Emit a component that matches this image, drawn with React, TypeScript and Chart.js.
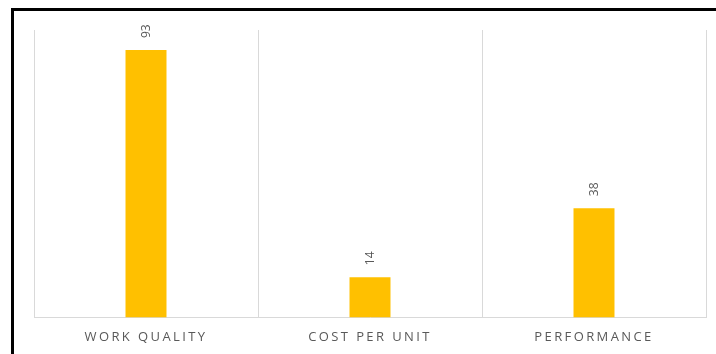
import React, { useEffect, useRef } from "react";
import { Chart, registerables } from "chart.js";

Chart.register(...registerables);

const categories: string[] = ["WORK QUALITY", "COST PER UNIT", "PERFORMANCE"];
const values: number[] = [93, 14, 38];
const yMin = 0;
const yMax = 100;

const FONT = "'Open Sans', 'Noto Sans', sans-serif";

const letterSpacingPlugin = {
  id: "letterSpacing",
  beforeDraw(chart: any) {
    (chart.ctx as any).letterSpacing = "2.4px";
  },
};

const valueLabelPlugin = {
  id: "valueLabels",
  afterDatasetsDraw(chart: any) {
    const ctx = chart.ctx as CanvasRenderingContext2D;
    const meta = chart.getDatasetMeta(0);
    const data = chart.data.datasets[0].data as number[];
    ctx.save();
    (ctx as any).letterSpacing = "0px";
    ctx.fillStyle = "#595959";
    ctx.font = `12px ${FONT}`;
    ctx.textAlign = "left";
    ctx.textBaseline = "middle";
    meta.data.forEach((bar: any, i: number) => {
      ctx.save();
      ctx.translate(bar.x + 1, bar.y - 12);
      ctx.rotate(-Math.PI / 2);
      ctx.fillText(String(data[i]), 0, 0);
      ctx.restore();
    });
    ctx.restore();
  },
};

export default function App() {
  const ref = useRef<HTMLCanvasElement | null>(null);

  useEffect(() => {
    if (!ref.current) return;
    const chart = new Chart(ref.current, {
      type: "bar",
      data: {
        labels: categories,
        datasets: [
          {
            data: values,
            backgroundColor: "#FFC000",
            borderWidth: 0,
            barPercentage: 0.183,
            categoryPercentage: 1,
          },
        ],
      },
      options: {
        responsive: false,
        animation: false,
        devicePixelRatio: 1,
        layout: { padding: { left: 34, right: 10, top: 30, bottom: 9 } },
        plugins: {
          legend: { display: false },
          tooltip: { enabled: false },
        },
        scales: {
          x: {
            grid: {
              display: true,
              offset: true,
              color: "#d9d9d9",
              lineWidth: 1,
              drawTicks: false,
            },
            border: { display: true, color: "#d9d9d9", width: 1 },
            ticks: {
              color: "#595959",
              font: { family: FONT, size: 13 },
              padding: 12,
              maxRotation: 0,
            },
          },
          y: {
            display: false,
            min: yMin,
            max: yMax,
          },
        },
      },
      plugins: [letterSpacingPlugin, valueLabelPlugin],
    });
    return () => chart.destroy();
  }, []);

  return (
    <div
      style={{
        position: "fixed",
        left: 0,
        top: 0,
        width: 716,
        height: 354,
        overflow: "hidden",
        background: "#fff",
      }}
    >
      <div
        style={{
          position: "absolute",
          left: 11,
          top: 8,
          width: 740,
          height: 380,
          border: "3px solid #000",
          boxSizing: "border-box",
        }}
      />
      <canvas
        ref={ref}
        width={716}
        height={366}
        style={{ position: "absolute", left: 0, top: 0 }}
      />
    </div>
  );
}
